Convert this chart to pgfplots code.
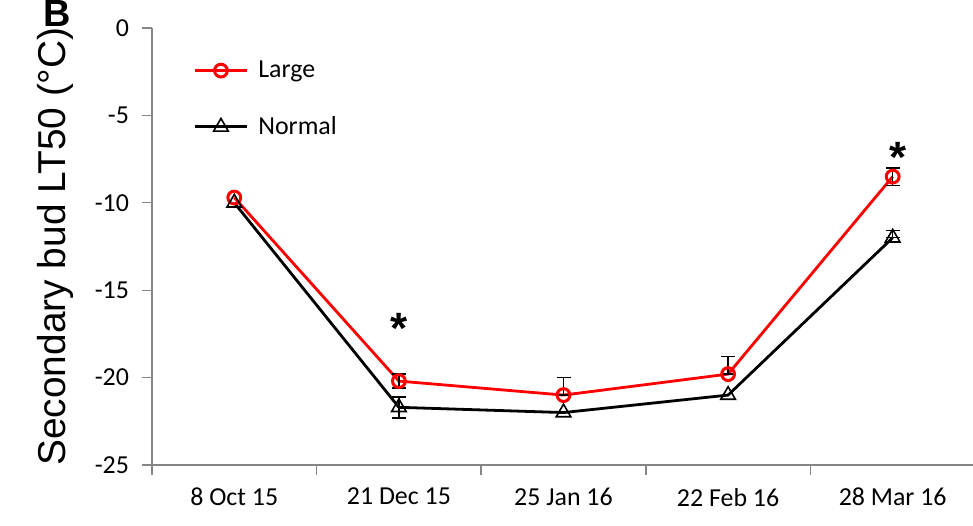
\documentclass[border=0pt]{standalone}
\usepackage{pgfplots}
\pgfplotsset{compat=1.18}
\usepackage{fontspec}
\setmainfont{Carlito}
\newfontfamily\arialfont{Liberation Sans}

\definecolor{axisgray}{RGB}{134,134,134}

\begin{document}
\begin{tikzpicture}
\begin{axis}[
  name=ax,
  scale only axis,
  width=411.5bp, height=218.5bp,
  xmin=0, xmax=5, ymin=-25, ymax=0,
  axis lines*=left,
  axis line style={axisgray, line width=0.7bp},
  xtick={0,1,2,3,4,5},
  xticklabels={8 Oct 15,21 Dec 15,25 Jan 16,22 Feb 16,28 Mar 16},
  x tick label as interval,
  ytick={-25,-20,-15,-10,-5,0},
  tick align=outside,
  major tick length=5bp,
  tick style={axisgray, line width=0.7bp},
  /pgf/number format/assume math mode=true,
  ticklabel style={font=\fontsize{13}{15}\selectfont, black},
  y tick label style={xshift=-3bp},
  x tick label style={yshift=-3bp},
  ylabel={\arialfont Secondary bud LT50 (°C)},
  ylabel style={font=\fontsize{19.5}{22}\selectfont, at={(axis description cs:-0.1179,0.5)}, anchor=center},
  clip=false,
  legend style={at={(rel axis cs:0.05,0.935)}, anchor=north west, draw=none, fill=none,
    font=\fontsize{13}{15}\selectfont, row sep=14bp, inner sep=0pt,
    /tikz/every odd column/.append style={column sep=3bp}},
  legend cell align=left,
  legend image code/.code={\draw[mark repeat=2,mark phase=2] plot coordinates {(0bp,0bp)(13bp,0bp)(26bp,0bp)};},
  error bars/error bar style={black, line width=0.7bp},
  error bars/error mark options={rotate=90, mark size=3.5bp, black, line width=0.7bp},
]
% Large buds
\addplot[red, line width=1.4bp, mark=o, mark size=3.2bp,
  mark options={fill=white, line width=1.5bp},
  error bars/.cd, y dir=both, y explicit]
  coordinates {
    (0.5,-9.7)
    (1.5,-20.2) += (0,0.4) -= (0,0.4)
    (2.5,-21.0) += (0,1.0) -= (0,0)
    (3.5,-19.8) += (0,1.0) -= (0,0)
    (4.5,-8.5) += (0,0.5) -= (0,0.5)
  };
\addlegendentry{Large}
% Normal buds
\addplot[black, line width=1.4bp, mark=triangle, mark size=4.2bp,
  mark options={fill=white, line width=0.8bp},
  error bars/.cd, y dir=both, y explicit]
  coordinates {
    (0.5,-10.0)
    (1.5,-21.7) += (0,0.6) -= (0,0.6)
    (2.5,-22.0)
    (3.5,-21.0)
    (4.5,-12.0) += (0,0.4) -= (0,0)
  };
\addlegendentry{Normal}
% significance marks
\node[font=\arialfont\bfseries\fontsize{22}{24}\selectfont] at (axis cs:1.5,-17.2) {*};
\node[font=\arialfont\bfseries\fontsize{22}{24}\selectfont] at (axis cs:4.53,-7.4) {*};
\end{axis}
\node[font=\arialfont\bfseries\fontsize{19}{21}\selectfont, anchor=base] at ([xshift=-47.5bp, yshift=0.5bp]ax.north west) {B};
\pgfresetboundingbox
\path[use as bounding box] ([xshift=-76bp, yshift=-30.5bp]ax.south west) rectangle ([xshift=410.5bp, yshift=14bp]ax.north west);
\end{tikzpicture}
\end{document}
